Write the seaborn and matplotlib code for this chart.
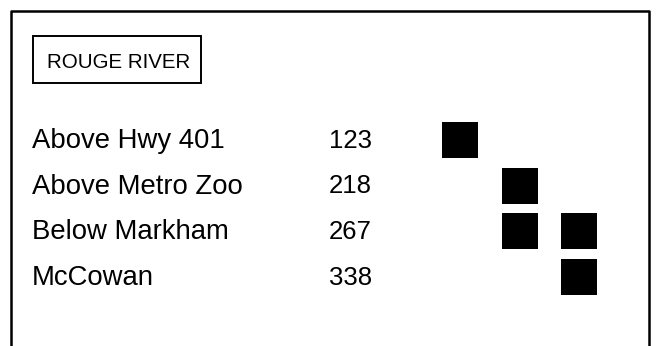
import pandas as pd
import matplotlib
matplotlib.use("Agg")
import matplotlib.pyplot as plt
import matplotlib.patches as patches
import matplotlib.transforms as mtransforms
import seaborn as sns

# chart data
title = "ROUGE RIVER"
sites = ["Above Hwy 401", "Above Metro Zoo", "Below Markham", "McCowan"]
counts = [123, 218, 267, 338]
columns = [0, 1, 2]
# which column gets a filled square for each site
presence = [[1, 0, 0],
            [0, 1, 0],
            [0, 1, 1],
            [0, 0, 1]]

# long table for seaborn
rows = []
for i, site in enumerate(sites):
    for c in columns:
        if presence[i][c]:
            rows.append({"row": i, "col": c, "site": site})
df = pd.DataFrame(rows)

sns.set_theme(style="white")
plt.rcParams["font.family"] = ["Liberation Sans", "DejaVu Sans"]

W, H = 656, 346
fig = plt.figure(figsize=(W / 100, H / 100), dpi=100)
ax = fig.add_axes([0, 0, 1, 1])

sns.scatterplot(data=df, x="col", y="row", marker="s", s=672, color="black",
                linewidth=0, legend=False, ax=ax)

# map grid cells to the picture
col_px, col_step = 460, 59.5
row_px, row_step = 140, 45.7
ax.set_xlim(-col_px / col_step, (W - col_px) / col_step)
ax.set_ylim((H - row_px) / row_step, -row_px / row_step)
ax.set_axis_off()

# outer frame (open at the bottom)
fl, fr, ft = 11 / W, 649 / W, 1 - 11 / H
ax.plot([fl, fl, fr, fr], [-0.1, ft, ft, -0.1], color="black", lw=1.8,
        transform=ax.transAxes, clip_on=False)

# title box
ax.add_patch(patches.Rectangle((33 / W, 1 - 83 / H), 168 / W, 47 / H,
                               transform=ax.transAxes, fill=False,
                               edgecolor="black", lw=1.4, clip_on=False))
ax.text(47 / W, 1 - 68 / H, title, transform=ax.transAxes, fontsize=14.8,
        ha="left", va="baseline", color="black")

# row labels and counts
blend = mtransforms.blended_transform_factory(ax.transAxes, ax.transData)
for i, (site, n) in enumerate(zip(sites, counts)):
    ax.annotate(site, xy=(32 / W, i), xycoords=blend, xytext=(0, -5.8),
                textcoords="offset points", fontsize=19.8, ha="left",
                va="baseline", color="black")
    ax.annotate(str(n), xy=(372 / W, i), xycoords=blend, xytext=(0, -5.4),
                textcoords="offset points", fontsize=18.5, ha="right",
                va="baseline", color="black")

fig.savefig("out.png", dpi=100, facecolor="white")
